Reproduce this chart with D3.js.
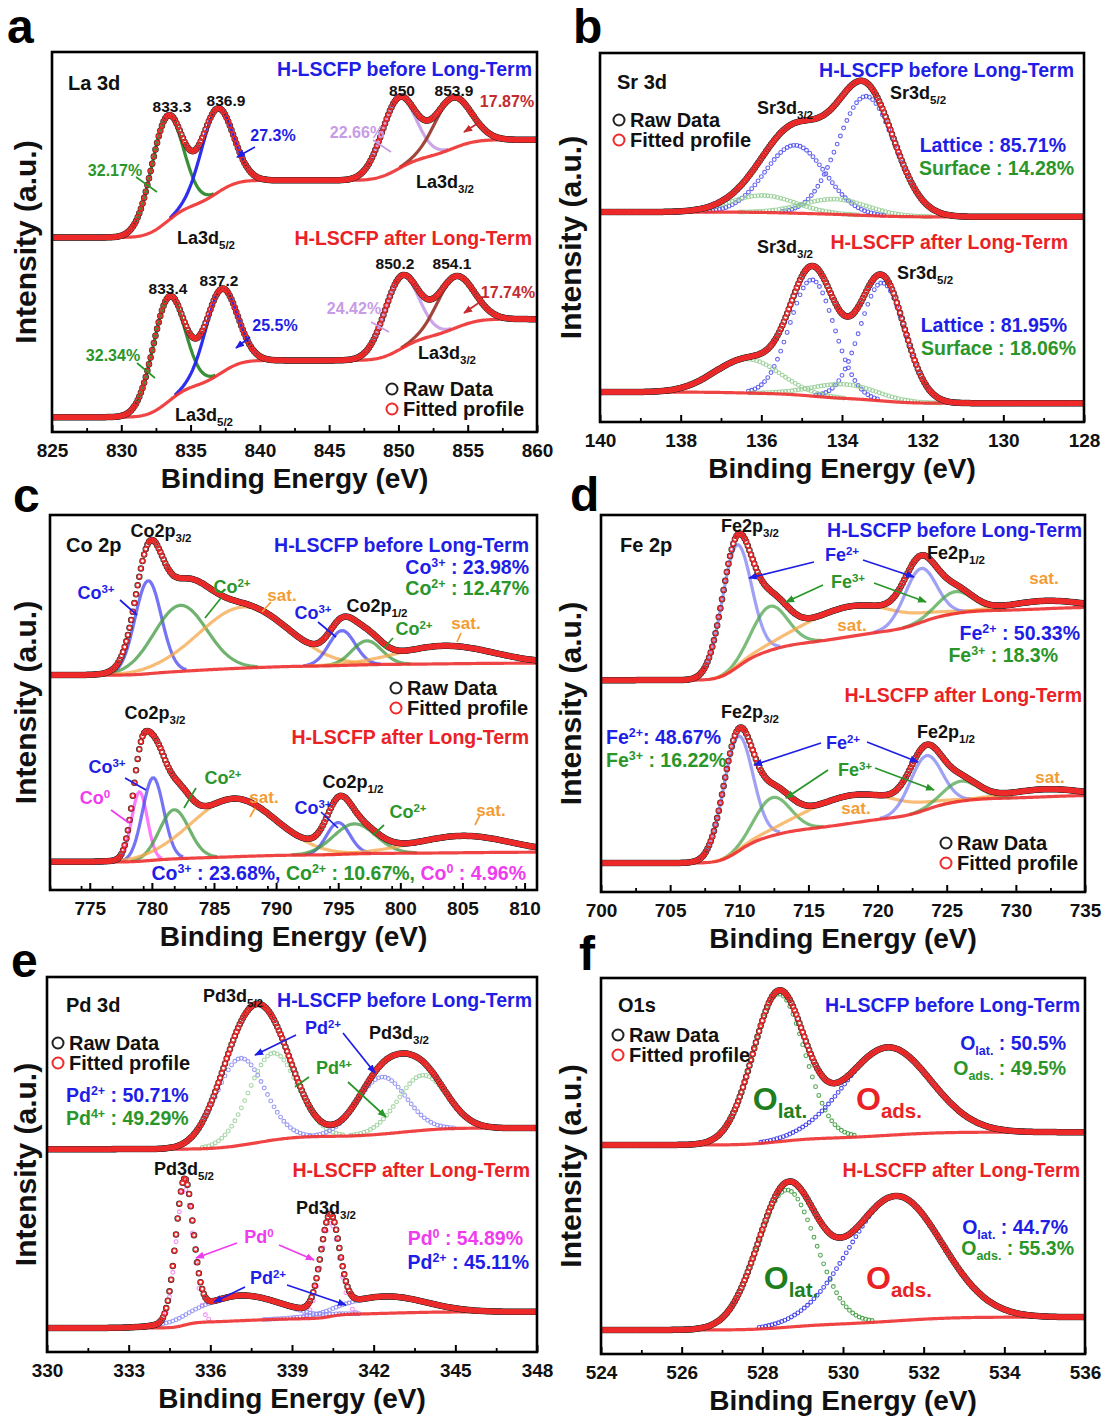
<!DOCTYPE html>
<html>
<head>
<meta charset="utf-8">
<script src="https://cdn.jsdelivr.net/npm/d3@7/dist/d3.min.js"></script>
<style>
  html, body { margin: 0; padding: 0; background: #fff; }
  svg { display: block; font-family: "Liberation Sans", Arial, Helvetica, sans-serif; font-weight: bold; }
</style>
</head>
<body>
<svg id="fig" width="1107" height="1416"></svg>
<script>
// ---------------- XPS fit parameters (peak centre eV, height a.u., FWHM eV, background at low/high BE) ----------------
// La 3d
const la3dTicks = [825, 830, 835, 840, 845, 850, 855, 860];
const la3dBeforeCenter = [833.3, 836.9, 850.0, 853.9];
const la3dBeforeHeight = [27.6, 22.0, 18.6, 13.3];
const la3dBeforeFwhm   = [2.7, 2.7, 2.9, 3.1];
const la3dBeforeBg     = [51.2, 76.9];
const la3dAfterCenter  = [833.4, 837.2, 850.2, 854.1];
const la3dAfterHeight  = [27.4, 22.0, 19.0, 13.5];
const la3dAfterFwhm    = [2.7, 2.7, 2.9, 3.1];
const la3dAfterBg      = [3.9, 29.7];

// Sr 3d  (lattice 5/2, lattice 3/2, surface 5/2, surface 3/2)
const sr3dTicks = [140, 138, 136, 134, 132, 130, 128];
const sr3dBeforeCenter = [133.4, 135.16, 134.17, 135.96];
const sr3dBeforeHeight = [32.3, 18.4, 4.1, 4.6];
const sr3dBeforeFwhm   = [1.65, 1.75, 1.9, 1.9];
const sr3dBeforeBg     = [55.6, 56.9];
const sr3dAfterCenter  = [133.0, 134.74, 133.94, 136.35];
const sr3dAfterHeight  = [32.0, 31.5, 3.8, 9.2];
const sr3dAfterFwhm    = [1.3, 1.3, 1.9, 1.9];
const sr3dAfterBg      = [5.1, 8.1];

// Co 2p  (Co3+, Co2+, sat., Co3+, Co2+, sat.) / (Co0, Co3+, Co2+, sat., Co3+, Co2+, sat.)
const co2pTicks = [775, 780, 785, 790, 795, 800, 805, 810];
const co2pBeforeCenter = [779.7, 782.3, 787.4, 795.3, 797.3, 803.6];
const co2pBeforeHeight = [24.8, 17.6, 16.3, 9.3, 6.4, 4.8];
const co2pBeforeFwhm   = [2.5, 5.0, 8.5, 2.5, 2.8, 9.0];
const co2pBeforeBg     = [57.3, 60.5];
const co2pAfterCenter  = [779.0, 780.1, 781.8, 786.6, 795.0, 796.3, 805.0];
const co2pAfterHeight  = [18.5, 22.0, 13.1, 15.5, 8.5, 8.0, 4.5];
const co2pAfterFwhm    = [1.5, 2.0, 2.8, 8.0, 2.2, 4.0, 9.0];
const co2pAfterBg      = [7.5, 10.1];

// Fe 2p  (Fe2+, Fe3+, sat., Fe2+, Fe3+, sat.)
const fe2pTicks = [700, 705, 710, 715, 720, 725, 730, 735];
const fe2pBeforeCenter = [709.8, 712.2, 718.0, 723.1, 725.6, 732.0];
const fe2pBeforeHeight = [32.5, 11.7, 8.0, 14.3, 5.8, 2.1];
const fe2pBeforeFwhm   = [2.5, 3.0, 8.0, 2.7, 3.0, 6.0];
const fe2pBeforeBg     = [56.2, 75.6];
const fe2pAfterCenter  = [709.9, 712.4, 718.1, 723.5, 726.0, 732.0];
const fe2pAfterHeight  = [30.5, 10.1, 7.4, 14.3, 5.3, 2.0];
const fe2pAfterFwhm    = [2.5, 3.0, 8.0, 2.7, 3.0, 6.0];
const fe2pAfterBg      = [7.7, 25.7];

// Pd 3d  (Pd2+, Pd4+, Pd2+, Pd4+) / (Pd0, Pd0, Pd2+, Pd2+)
const pd3dTicks = [330, 333, 336, 339, 342, 345, 348];
const pd3dBeforeCenter = [337.1, 338.3, 342.3, 343.8];
const pd3dBeforeHeight = [23.2, 23.2, 15.2, 14.7];
const pd3dBeforeFwhm   = [2.1, 2.1, 2.1, 2.1];
const pd3dBeforeBg     = [54.1, 59.7];
const pd3dAfterCenter  = [335.05, 340.4, 337.1, 342.4];
const pd3dAfterHeight  = [36.5, 25.0, 6.7, 4.5];
const pd3dAfterFwhm    = [0.75, 0.8, 3.5, 3.5];
const pd3dAfterBg      = [6.4, 10.7];

// O 1s  (O lattice, O adsorbed)
const o1sTicks = [524, 526, 528, 530, 532, 534, 536];
const o1sBeforeCenter = [528.4, 531.1];
const o1sBeforeHeight = [39.3, 23.4];
const o1sBeforeFwhm   = [1.5, 2.5];
const o1sBeforeBg     = [55.6, 59.0];
const o1sAfterCenter  = [528.6, 531.3];
const o1sAfterHeight  = [36.5, 33.2];
const o1sAfterFwhm    = [1.7, 2.7];
const o1sAfterBg      = [6.4, 9.8];

// ---------------- colours ----------------
const K = '#111', B = '#1e1ee6', R = '#ea2226', G = '#2a962a', LI = '#c79be6',
      DR = '#c42a2e', O = '#f39c34', M = '#ee3cee';
const la3dColors  = ['#2c8a2c', '#2323ee', '#c8a2e8', '#9c3b30'];
const sr3dColors  = ['#4a4aee', '#4a4aee', '#93cc93', '#93cc93'];
const co2pBeforeColors = ['#4545f0', '#3f9a3f', '#f4a548', '#4545f0', '#3f9a3f', '#f4a548'];
const co2pAfterColors  = ['#ff4cff', '#4545f0', '#3f9a3f', '#f4a548', '#4545f0', '#3f9a3f', '#f4a548'];
const fe2pColors  = ['#8080f2', '#4fa64f', '#f6a548', '#8080f2', '#4fa64f', '#f6a548'];
const pd3dBeforeColors = ['#8a8af2', '#98cf98', '#8a8af2', '#98cf98'];
const pd3dAfterColors  = ['#f27cf2', '#f27cf2', '#8a8af2', '#8a8af2'];
const o1sColors   = ['#3a9a3a', '#2b2be8'];

// ---------------- annotations: [text, x, y(centre), anchor, colour, size] ----------------
const annA = [
  ['La 3d', 68, 83, 'start', K, 20],
  ['H-LSCFP before Long-Term', 532, 69, 'end', B, 19.5],
  ['833.3', 172, 106, 'middle', K, 15.5], ['836.9', 226, 100, 'middle', K, 15.5],
  ['850', 402, 90, 'middle', K, 15.5], ['853.9', 454, 90, 'middle', K, 15.5],
  ['17.87%', 507, 101, 'middle', DR, 16], ['22.66%', 357, 132, 'middle', LI, 16],
  ['27.3%', 273, 135, 'middle', B, 16], ['32.17%', 115, 170, 'middle', G, 16],
  ['La3d_{3/2}', 416, 182, 'start', K, 18], ['La3d_{5/2}', 177, 238, 'start', K, 18],
  ['H-LSCFP after Long-Term', 532, 238, 'end', R, 19.5],
  ['833.4', 168, 288, 'middle', K, 15.5], ['837.2', 219, 280, 'middle', K, 15.5],
  ['850.2', 395, 263, 'middle', K, 15.5], ['854.1', 452, 263, 'middle', K, 15.5],
  ['17.74%', 508, 292, 'middle', DR, 16], ['24.42%', 354, 308, 'middle', LI, 16],
  ['25.5%', 275, 325, 'middle', B, 16], ['32.34%', 113, 355, 'middle', G, 16],
  ['La3d_{3/2}', 418, 353, 'start', K, 18], ['La3d_{5/2}', 175, 415, 'start', K, 18]
];
const linesA = [
  [136, 177, 157, 192, G, 0], [255, 147, 237, 157, B, 1], [373, 140, 391, 152, LI, 0], [480, 122, 464, 132, DR, 1],
  [137, 363, 155, 378, G, 0], [250, 337, 236, 348, B, 1], [371, 322, 389, 332, LI, 0], [480, 302, 464, 313, DR, 1]
];
const annB = [
  ['Sr 3d', 617, 82, 'start', K, 20],
  ['H-LSCFP before Long-Term', 1074, 70, 'end', B, 19.5],
  ['Sr3d_{3/2}', 785, 108, 'middle', K, 18], ['Sr3d_{5/2}', 890, 93, 'start', K, 18],
  ['Lattice : 85.71%', 1066, 145, 'end', B, 19.5], ['Surface : 14.28%', 1074, 168, 'end', G, 19.5],
  ['Sr3d_{3/2}', 785, 247, 'middle', K, 18],
  ['H-LSCFP after Long-Term', 1068, 242, 'end', R, 19.5],
  ['Sr3d_{5/2}', 897, 273, 'start', K, 18],
  ['Lattice : 81.95%', 1067, 325, 'end', B, 19.5], ['Surface : 18.06%', 1076, 348, 'end', G, 19.5]
];
const annC = [
  ['Co 2p', 66, 545, 'start', K, 20],
  ['Co2p_{3/2}', 161, 531, 'middle', K, 18],
  ['H-LSCFP before Long-Term', 529, 545, 'end', B, 19.5],
  ['Co^{3+} : 23.98%', 529, 567, 'end', B, 19.5], ['Co^{2+} : 12.47%', 529, 588, 'end', G, 19.5],
  ['Co^{3+}', 96, 593, 'middle', B, 18], ['Co^{2+}', 232, 587, 'middle', G, 18], ['sat.', 282, 595, 'middle', O, 17],
  ['Co^{3+}', 313, 613, 'middle', B, 18], ['Co2p_{1/2}', 377, 606, 'middle', K, 18],
  ['Co^{2+}', 414, 629, 'middle', G, 18], ['sat.', 466, 623, 'middle', O, 17],
  ['Co2p_{3/2}', 155, 713, 'middle', K, 18],
  ['H-LSCFP after Long-Term', 529, 737, 'end', R, 19.5],
  ['Co^{3+}', 107, 767, 'middle', B, 18], ['Co^{0}', 95, 798, 'middle', M, 18],
  ['Co^{2+}', 223, 778, 'middle', G, 18], ['sat.', 264, 797, 'middle', O, 17],
  ['Co2p_{1/2}', 353, 782, 'middle', K, 18], ['Co^{3+}', 313, 808, 'middle', B, 18],
  ['Co^{2+}', 408, 812, 'middle', G, 18], ['sat.', 491, 810, 'middle', O, 17]
];
const multiC = [[['Co^{3+} : 23.68%, ', B], ['Co^{2+} : 10.67%, ', G], ['Co^{0} : 4.96%', M]], 526, 873, 'end', 19.5];
const linesC = [
  [120, 600, 137, 615, B, 0], [221, 598, 205, 618, G, 0], [271, 602, 262, 612, O, 0],
  [318, 622, 336, 637, B, 0], [393, 638, 384, 648, G, 0], [461, 633, 457, 642, O, 0],
  [125, 778, 146, 790, B, 0], [111, 810, 129, 823, M, 0], [196, 788, 184, 808, G, 0],
  [255, 808, 250, 817, O, 0], [321, 812, 338, 828, B, 0], [384, 825, 373, 835, G, 0], [480, 815, 475, 825, O, 0]
];
const annD = [
  ['Fe 2p', 620, 545, 'start', K, 20],
  ['Fe2p_{3/2}', 750, 526, 'middle', K, 18],
  ['H-LSCFP before Long-Term', 1082, 530, 'end', B, 19.5],
  ['Fe^{2+}', 842, 555, 'middle', B, 18], ['Fe2p_{1/2}', 956, 553, 'middle', K, 18],
  ['Fe^{3+}', 848, 582, 'middle', G, 18], ['sat.', 1044, 578, 'middle', O, 17], ['sat.', 852, 625, 'middle', O, 17],
  ['Fe^{2+} : 50.33%', 1080, 633, 'end', B, 19.5], ['Fe^{3+} : 18.3%', 1058, 655, 'end', G, 19.5],
  ['H-LSCFP after Long-Term', 1082, 695, 'end', R, 19.5],
  ['Fe2p_{3/2}', 750, 712, 'middle', K, 18],
  ['Fe^{2+}: 48.67%', 606, 737, 'start', B, 19.5], ['Fe^{3+} : 16.22%', 606, 760, 'start', G, 19.5],
  ['Fe^{2+}', 843, 743, 'middle', B, 18], ['Fe2p_{1/2}', 946, 732, 'middle', K, 18],
  ['Fe^{3+}', 855, 770, 'middle', G, 18], ['sat.', 1050, 777, 'middle', O, 17], ['sat.', 856, 808, 'middle', O, 17]
];
const linesD = [
  [814, 562, 749, 578, B, 1], [863, 560, 914, 577, B, 1], [823, 585, 786, 602, G, 1], [874, 583, 926, 602, G, 1],
  [821, 743, 754, 765, B, 1], [867, 742, 918, 762, B, 1], [828, 770, 786, 798, G, 1], [875, 768, 934, 790, G, 1]
];
const annE = [
  ['Pd 3d', 66, 1005, 'start', K, 20],
  ['Pd3d_{5/2}', 233, 996, 'middle', K, 18],
  ['H-LSCFP before Long-Term', 532, 1000, 'end', B, 19.5],
  ['Pd^{2+}', 323, 1028, 'middle', B, 18], ['Pd3d_{3/2}', 399, 1033, 'middle', K, 18],
  ['Pd^{4+}', 334, 1068, 'middle', G, 18],
  ['Pd^{2+} : 50.71%', 66, 1095, 'start', B, 19.5], ['Pd^{4+} : 49.29%', 66, 1118, 'start', G, 19.5],
  ['Pd3d_{5/2}', 184, 1169, 'middle', K, 18],
  ['H-LSCFP after Long-Term', 530, 1170, 'end', R, 19.5],
  ['Pd3d_{3/2}', 326, 1208, 'middle', K, 18], ['Pd^{0}', 259, 1237, 'middle', M, 18],
  ['Pd^{0} : 54.89%', 523, 1238, 'end', M, 19.5], ['Pd^{2+} : 45.11%', 529, 1262, 'end', B, 19.5],
  ['Pd^{2+}', 268, 1278, 'middle', B, 18]
];
const linesE = [
  [296, 1035, 255, 1055, B, 1], [343, 1033, 375, 1073, B, 1], [309, 1077, 295, 1087, G, 0], [348, 1082, 386, 1117, G, 1],
  [237, 1243, 196, 1258, M, 1], [279, 1245, 314, 1260, M, 1], [245, 1287, 214, 1302, B, 1], [287, 1285, 346, 1305, B, 1]
];
const annF = [
  ['O1s', 618, 1005, 'start', K, 20],
  ['H-LSCFP before Long-Term', 1080, 1005, 'end', B, 19.5],
  ['O_{lat.} : 50.5%', 1066, 1043, 'end', B, 19.5], ['O_{ads.} : 49.5%', 1066, 1068, 'end', G, 19.5],
  ['O_{lat.}', 780, 1098, 'middle', '#1f7f1f', 32], ['O_{ads.}', 889, 1098, 'middle', R, 32],
  ['H-LSCFP after Long-Term', 1080, 1170, 'end', R, 19.5],
  ['O_{lat.} : 44.7%', 1068, 1227, 'end', B, 19.5], ['O_{ads.} : 55.3%', 1074, 1248, 'end', G, 19.5],
  ['O_{lat.}', 791, 1277, 'middle', '#1f7f1f', 32], ['O_{ads.}', 899, 1277, 'middle', R, 32]
];

// ---------------- panel layout ----------------
const panels = [
  { letter: 'a', lp: [7, 43], box: [52, 537, 52, 432], domain: [825, 860], ticks: la3dTicks, minorStep: 2.5,
    comp: 'line', ylab: 36,
    spectra: [
      { center: la3dBeforeCenter, height: la3dBeforeHeight, fwhm: la3dBeforeFwhm, bg: la3dBeforeBg, colors: la3dColors },
      { center: la3dAfterCenter, height: la3dAfterHeight, fwhm: la3dAfterFwhm, bg: la3dAfterBg, colors: la3dColors }],
    ann: annA, lines: linesA, legend: [392, 389] },
  { letter: 'b', lp: [573, 43], box: [600, 1084, 53, 422], domain: [140, 128], ticks: sr3dTicks, minorStep: 1,
    comp: 'dots', ylab: 581,
    spectra: [
      { center: sr3dBeforeCenter, height: sr3dBeforeHeight, fwhm: sr3dBeforeFwhm, bg: sr3dBeforeBg, colors: sr3dColors },
      { center: sr3dAfterCenter, height: sr3dAfterHeight, fwhm: sr3dAfterFwhm, bg: sr3dAfterBg, colors: sr3dColors }],
    ann: annB, lines: [], legend: [619, 120] },
  { letter: 'c', lp: [13, 512], box: [50, 537, 515, 890], domain: [771.8, 811], ticks: co2pTicks, minorStep: 2.5,
    comp: 'line', ylab: 36,
    spectra: [
      { center: co2pBeforeCenter, height: co2pBeforeHeight, fwhm: co2pBeforeFwhm, bg: co2pBeforeBg, colors: co2pBeforeColors },
      { center: co2pAfterCenter, height: co2pAfterHeight, fwhm: co2pAfterFwhm, bg: co2pAfterBg, colors: co2pAfterColors }],
    ann: annC, lines: linesC, legend: [396, 688], multi: multiC },
  { letter: 'd', lp: [570, 511], box: [601, 1085, 515, 892], domain: [700, 735], ticks: fe2pTicks, minorStep: 2.5,
    comp: 'line', ylab: 581,
    spectra: [
      { center: fe2pBeforeCenter, height: fe2pBeforeHeight, fwhm: fe2pBeforeFwhm, bg: fe2pBeforeBg, colors: fe2pColors },
      { center: fe2pAfterCenter, height: fe2pAfterHeight, fwhm: fe2pAfterFwhm, bg: fe2pAfterBg, colors: fe2pColors }],
    ann: annD, lines: linesD, legend: [946, 843] },
  { letter: 'e', lp: [11, 977], box: [47, 537, 977, 1352], domain: [330, 348], ticks: pd3dTicks, minorStep: 1.5,
    comp: 'dots', ylab: 36,
    spectra: [
      { center: pd3dBeforeCenter, height: pd3dBeforeHeight, fwhm: pd3dBeforeFwhm, bg: pd3dBeforeBg, colors: pd3dBeforeColors },
      { center: pd3dAfterCenter, height: pd3dAfterHeight, fwhm: pd3dAfterFwhm, bg: pd3dAfterBg, colors: pd3dAfterColors }],
    ann: annE, lines: linesE, legend: [58, 1043] },
  { letter: 'f', lp: [579, 970], box: [601, 1085, 978, 1354], domain: [524, 536], ticks: o1sTicks, minorStep: 1,
    comp: 'dots', ylab: 581,
    spectra: [
      { center: o1sBeforeCenter, height: o1sBeforeHeight, fwhm: o1sBeforeFwhm, bg: o1sBeforeBg, colors: o1sColors },
      { center: o1sAfterCenter, height: o1sAfterHeight, fwhm: o1sAfterFwhm, bg: o1sAfterBg, colors: o1sColors }],
    ann: annF, lines: [], legend: [618, 1035] }
];

// ---------------- helpers ----------------
function erf(x) {
  const s = Math.sign(x); x = Math.abs(x);
  const t = 1 / (1 + 0.3275911 * x);
  const y = 1 - (((((1.061405429 * t - 1.453152027) * t) + 1.421413741) * t - 0.284496736) * t + 0.254829592) * t * Math.exp(-x * x);
  return s * y;
}
const FWHM_TO_SIGMA = 1 / (2 * Math.sqrt(2 * Math.LN2));

// Gaussian components sitting on a Shirley-type background
function model(s) {
  const sig = s.fwhm.map(w => w * FWHM_TO_SIGMA);
  const area = s.height.map((h, i) => h * sig[i] * Math.sqrt(2 * Math.PI));
  const total = d3.sum(area);
  const peak = (i, E) => s.height[i] * Math.exp(-0.5 * ((E - s.center[i]) / sig[i]) ** 2);
  const bg = E => s.bg[0] + (s.bg[1] - s.bg[0]) *
    d3.sum(area, (a, i) => a * 0.5 * (1 + erf((E - s.center[i]) / (sig[i] * Math.SQRT2)))) / total;
  const env = E => bg(E) + d3.sum(s.center, (c, i) => peak(i, E));
  return { peak, bg, env };
}

// text with ^{sup} and _{sub} runs
function appendRich(t, str, fs, fill, state) {
  const parts = str.split(/(\^\{[^}]*\}|_\{[^}]*\})/).filter(p => p.length);
  parts.forEach(p => {
    let txt = p, target = 0, size = fs;
    if (p.startsWith('^{')) { txt = p.slice(2, -1); target = -0.38 * fs; size = 0.64 * fs; }
    else if (p.startsWith('_{')) { txt = p.slice(2, -1); target = 0.26 * fs; size = 0.64 * fs; }
    const ts = t.append('tspan').attr('dy', target - state.shift).attr('font-size', size).text(txt);
    if (fill) ts.attr('fill', fill);
    state.shift = target;
  });
}
function addText(parent, [str, x, y, anchor, color, fs]) {
  const t = parent.append('text').attr('x', x).attr('y', y + 0.36 * fs)
    .attr('text-anchor', anchor).attr('font-size', fs).attr('fill', color);
  appendRich(t, str, fs, null, { shift: 0 });
}

const svg = d3.select('#fig');
const defs = svg.append('defs');
const markerIds = {};
function arrowMarker(color) {
  if (markerIds[color]) return markerIds[color];
  const id = 'arr' + Object.keys(markerIds).length;
  defs.append('marker').attr('id', id).attr('viewBox', '0 0 10 10')
    .attr('refX', 9).attr('refY', 5).attr('markerWidth', 9).attr('markerHeight', 9)
    .attr('markerUnits', 'userSpaceOnUse').attr('orient', 'auto')
    .append('path').attr('d', 'M0,1 L10,5 L0,9 Z').attr('fill', color);
  markerIds[color] = id;
  return id;
}

// ---------------- draw ----------------
panels.forEach((p, pi) => {
  const [xl, xr, yt, yb] = p.box;
  const x = d3.scaleLinear().domain(p.domain).range([xl, xr]);
  const y = d3.scaleLinear().domain([0, 100]).range([yb, yt]);
  const lo = d3.min(p.domain), hi = d3.max(p.domain);
  const N = 300;
  const grid = d3.range(N + 1).map(k => lo + (hi - lo) * k / N);

  defs.append('clipPath').attr('id', 'clip' + pi)
    .append('rect').attr('x', xl).attr('y', yt).attr('width', xr - xl).attr('height', yb - yt);
  const g = svg.append('g').attr('clip-path', `url(#clip${pi})`);
  const line = d3.line().x(d => x(d[0])).y(d => y(d[1]));

  p.spectra.forEach(s => {
    const m = model(s);
    // fitted components
    s.center.forEach((c, i) => {
      const pts = grid.filter(E => m.peak(i, E) > 0.012 * s.height[i]).map(E => [E, m.bg(E) + m.peak(i, E)]);
      if (p.comp === 'line') {
        g.append('path').datum(pts).attr('d', line).attr('fill', 'none')
          .attr('stroke', s.colors[i]).attr('stroke-width', 3.2).attr('stroke-opacity', pi === 0 ? 0.95 : 0.75);
      } else {
        g.append('g').selectAll('circle').data(pts.filter((d, k) => k % 2 === 0)).join('circle')
          .attr('cx', d => x(d[0])).attr('cy', d => y(d[1])).attr('r', 1.9)
          .attr('fill', 'none').attr('stroke', s.colors[i]).attr('stroke-width', 1.1).attr('stroke-opacity', 0.85);
      }
    });
    // background
    g.append('path').datum(grid.map(E => [E, m.bg(E)])).attr('d', line).attr('fill', 'none')
      .attr('stroke', '#ee3030').attr('stroke-width', 3.2).attr('stroke-opacity', 0.9);
    const env = grid.map(E => [E, m.env(E)]);
    // raw data markers
    g.append('g').selectAll('circle').data(env).join('circle')
      .attr('cx', d => x(d[0])).attr('cy', d => y(d[1])).attr('r', 2.7)
      .attr('fill', 'none').attr('stroke', '#2a2a2a').attr('stroke-width', 1.1);
    // fitted profile markers
    g.append('g').selectAll('circle').data(env).join('circle')
      .attr('cx', d => x(d[0])).attr('cy', d => y(d[1])).attr('r', 2.1)
      .attr('fill', 'none').attr('stroke', '#f02a2a').attr('stroke-width', 1.3);
  });

  // frame
  svg.append('rect').attr('x', xl).attr('y', yt).attr('width', xr - xl).attr('height', yb - yt)
    .attr('fill', 'none').attr('stroke', '#000').attr('stroke-width', 2.6);

  // x axis (inward ticks)
  const minor = d3.range(lo, hi + 1e-6, p.minorStep).filter(v => !p.ticks.some(t => Math.abs(t - v) < 1e-6));
  const axG = svg.append('g').attr('transform', `translate(0,${yb})`)
    .call(d3.axisBottom(x).tickValues(p.ticks).tickSize(-7).tickFormat(d3.format('d')));
  axG.select('.domain').remove();
  axG.selectAll('line').attr('stroke', '#000').attr('stroke-width', 2);
  axG.selectAll('text').attr('y', 25).attr('dy', null).attr('font-size', 19)
    .attr('font-family', '"Liberation Sans", Arial, sans-serif').attr('font-weight', 'bold').attr('fill', '#111');
  const mnG = svg.append('g').attr('transform', `translate(0,${yb})`)
    .call(d3.axisBottom(x).tickValues(minor).tickSize(-4).tickFormat(''));
  mnG.select('.domain').remove();
  mnG.selectAll('line').attr('stroke', '#000').attr('stroke-width', 1.8);

  // axis titles
  svg.append('text').attr('x', (xl + xr) / 2).attr('y', yb + 56).attr('text-anchor', 'middle')
    .attr('font-size', 28).attr('fill', '#111').text('Binding Energy (eV)');
  svg.append('text').attr('transform', `translate(${p.ylab},${(yt + yb) / 2}) rotate(-90)`)
    .attr('text-anchor', 'middle').attr('font-size', 30).attr('fill', '#111').text('Intensity (a.u.)');

  // panel letter
  svg.append('text').attr('x', p.lp[0]).attr('y', p.lp[1]).attr('font-size', 48).attr('fill', '#000').text(p.letter);

  // leader lines
  p.lines.forEach(([x1, y1, x2, y2, c, arrow]) => {
    const l = svg.append('line').attr('x1', x1).attr('y1', y1).attr('x2', x2).attr('y2', y2)
      .attr('stroke', c).attr('stroke-width', 1.7);
    if (arrow) l.attr('marker-end', `url(#${arrowMarker(c)})`);
  });

  // annotations
  p.ann.forEach(a => addText(svg, a));
  if (p.multi) {
    const [segs, mx, my, anchor, fs] = p.multi;
    const t = svg.append('text').attr('x', mx).attr('y', my + 0.36 * fs).attr('text-anchor', anchor).attr('font-size', fs);
    const st = { shift: 0 };
    segs.forEach(([str, c]) => appendRich(t, str, fs, c, st));
  }

  // legend
  const [lx, ly] = p.legend;
  [['Raw Data', '#222'], ['Fitted profile', '#f02a2a']].forEach(([lab, c], k) => {
    svg.append('circle').attr('cx', lx).attr('cy', ly + k * 20).attr('r', 5.5)
      .attr('fill', 'none').attr('stroke', c).attr('stroke-width', 2);
    svg.append('text').attr('x', lx + 11).attr('y', ly + k * 20 + 7).attr('font-size', 20)
      .attr('fill', '#111').text(lab);
  });
});
</script>
</body>
</html>
